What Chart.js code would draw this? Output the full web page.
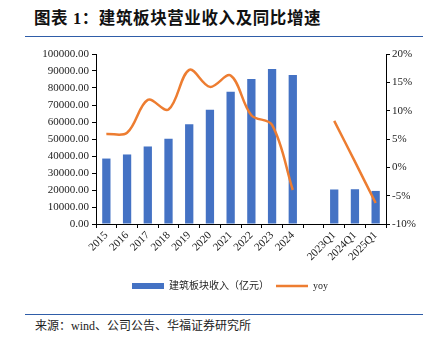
<!DOCTYPE html>
<html>
<head>
<meta charset="utf-8">
<script src="https://cdn.jsdelivr.net/npm/chart.js@4/dist/chart.umd.min.js"></script>
<style>
  html, body { margin: 0; padding: 0; background: #fff; }
  body { width: 436px; height: 347px; position: relative; overflow: hidden; }
  #title { position: absolute; left: 34px; top: 5px; font-family: "Liberation Serif", "Noto Sans CJK SC", serif; font-weight: bold; font-size: 16.5px; color: #111; white-space: nowrap; letter-spacing: 0.6px; }
  .rule { position: absolute; left: 25px; width: 398px; height: 1px; background: #2f5da8; }
  #source { position: absolute; left: 35px; top: 316px; font-family: "Liberation Serif", "Noto Sans CJK SC", serif; font-size: 12px; color: #222; white-space: nowrap; }
  #wrap { position: absolute; left: 0; top: 40px; width: 436px; height: 270px; }
</style>
</head>
<body>
<div id="title">图表 1：建筑板块营业收入及同比增速</div>
<div class="rule" style="top:36px"></div>
<div id="wrap"><canvas id="c" width="436" height="270"></canvas></div>
<div class="rule" style="top:314px"></div>
<div id="source">来源：wind、公司公告、华福证券研究所</div>
<script>
const categories = ['2015','2016','2017','2018','2019','2020','2021','2022','2023','2024','','2023Q1','2024Q1','2025Q1'];
const revenue = [38500, 40900, 45600, 50100, 58700, 67200, 77800, 85300, 91200, 87600, null, 20300, 20450, 19450];
const yoy = [5.9, 6.1, 11.9, 10.2, 17.2, 14.2, 16.2, 9.2, 7.5, -4.0, null, 8.2, 1.0, -6.3];
const leftTicks = [0, 10000, 20000, 30000, 40000, 50000, 60000, 70000, 80000, 90000, 100000];
const rightTicks = [-10, -5, 0, 5, 10, 15, 20];
const seriesNames = ['建筑板块收入（亿元）', 'yoy'];

const tickFont = { family: '"Liberation Serif", "Times New Roman", serif', size: 11 };
const axisGrid = { display: true, drawOnChartArea: false, drawTicks: true, tickLength: 4, color: '#000', lineWidth: 1 };

new Chart(document.getElementById('c'), {
  data: {
    labels: categories,
    datasets: [
      { type: 'bar', label: seriesNames[0], data: revenue, backgroundColor: '#4472C4', borderWidth: 0,
        barPercentage: 0.4, categoryPercentage: 1.0, yAxisID: 'y', order: 1 },
      { type: 'line', label: seriesNames[1], data: yoy, borderColor: '#ED7D31', backgroundColor: '#ED7D31',
        borderWidth: 2.5, pointRadius: 0, tension: 0.35, spanGaps: false, yAxisID: 'y1', order: 0 }
    ]
  },
  options: {
    responsive: false,
    animation: false,
    devicePixelRatio: 1,
    layout: { padding: { left: 24, right: 0, top: 14, bottom: 9 } },
    plugins: {
      tooltip: { enabled: false },
      legend: {
        position: 'bottom',
        labels: {
          sort: (a, b) => a.datasetIndex - b.datasetIndex,
          usePointStyle: true,
          pointStyleWidth: 32,
          boxHeight: 6,
          padding: 7,
          color: '#222',
          font: { family: '"Liberation Serif", "Times New Roman", "Noto Sans CJK SC", serif', size: 10 },
          generateLabels: (chart) => {
            const items = Chart.defaults.plugins.legend.labels.generateLabels(chart);
            items.forEach(it => {
              if (it.datasetIndex === 0) { it.pointStyle = 'rect'; it.lineWidth = 0; it.fillStyle = '#4472C4'; it.strokeStyle = '#4472C4'; }
              else { it.pointStyle = 'line'; it.lineWidth = 2.5; it.strokeStyle = '#ED7D31'; }
            });
            return items;
          }
        }
      }
    },
    scales: {
      x: {
        offset: true,
        grid: { ...axisGrid, offset: true },
        border: { display: true, color: '#000', width: 1 },
        ticks: { autoSkip: false, maxRotation: 45, minRotation: 45, padding: 1, color: '#222', font: tickFont },
        afterFit: (s) => { s.height = 50; }
      },
      y: {
        position: 'left',
        min: 0, max: 100000,
        afterBuildTicks: (s) => { s.ticks = leftTicks.map(v => ({ value: v })); },
        grid: axisGrid,
        border: { display: true, color: '#000', width: 1 },
        ticks: { padding: 3, color: '#222', font: tickFont, callback: (v) => Number(v).toFixed(2) },
        afterFit: (s) => { s.width = 72; }
      },
      y1: {
        position: 'right',
        min: -10, max: 20,
        afterBuildTicks: (s) => { s.ticks = rightTicks.map(v => ({ value: v })); },
        grid: axisGrid,
        border: { display: true, color: '#000', width: 1 },
        ticks: { padding: 2, color: '#222', font: tickFont, callback: (v) => v + '%' },
        afterFit: (s) => { s.width = 50; }
      }
    }
  }
});
</script>
</body>
</html>
